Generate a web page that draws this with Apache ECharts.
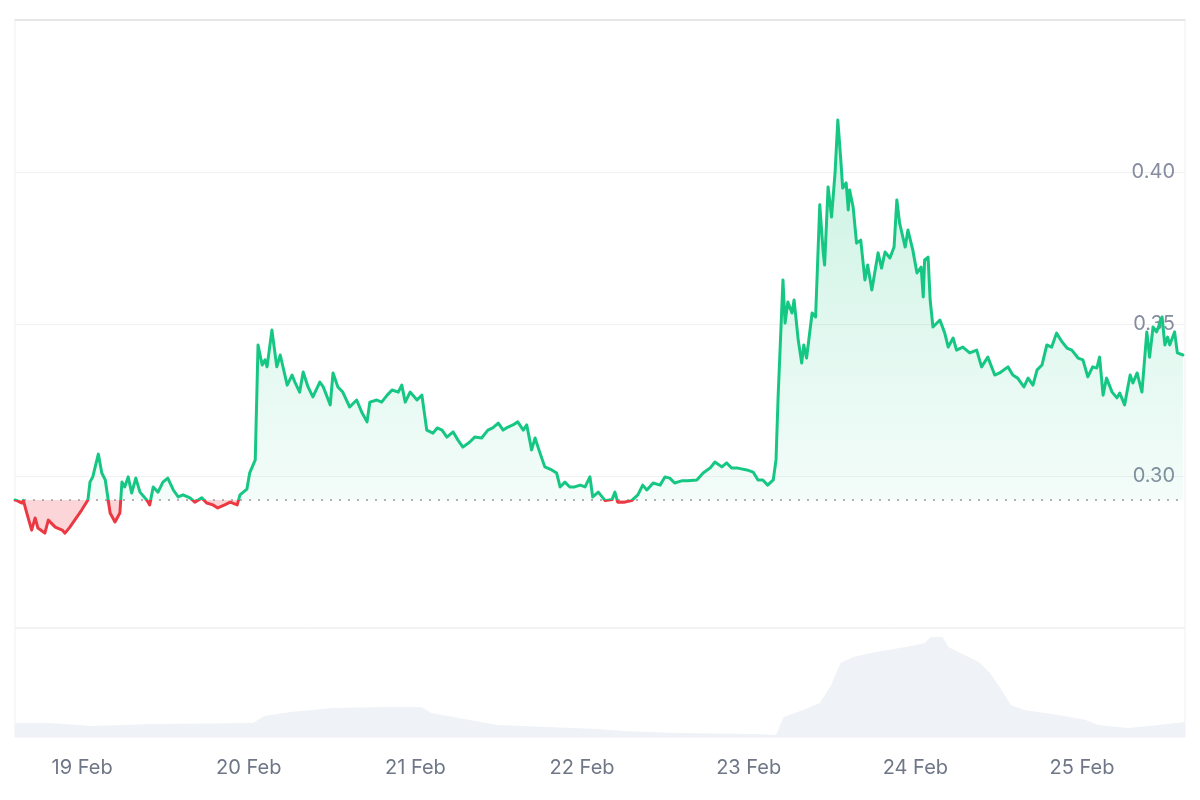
<!DOCTYPE html>
<html>
<head>
<meta charset="utf-8">
<script src="https://cdn.jsdelivr.net/npm/echarts@6/dist/echarts.min.js"></script>
<style>
html,body{margin:0;padding:0;background:#fff;}
#chart{width:1200px;height:800px;}
</style>
</head>
<body>
<div id="chart"></div>
<script>
// time origin of the 7-day window (UTC)
const START = Date.UTC(2025, 1, 18, 14, 20);
const HOUR = 3600000;
const AXIS_SPAN_HOURS = 168.5;
const baselinePrice = 0.2921;

const priceTicks = [0.25, 0.30, 0.35, 0.40, 0.45];
const shownPriceLabels = ['0.30', '0.35', '0.40'];
const dayLabels = ['19 Feb', '20 Feb', '21 Feb', '22 Feb', '23 Feb', '24 Feb', '25 Feb'];

// hours since START
const priceHours = [
0.0,0.3,1.0,1.2,1.7,2.4,2.9,3.3,4.3,4.8,5.8,6.8,7.2,7.9,8.9,9.6,10.5,10.8,11.2,12.0,
12.5,13.0,13.7,14.4,15.1,15.4,15.8,16.3,16.8,17.4,18.0,19.0,19.4,19.9,20.6,21.3,22.0,22.8,23.5,24.2,
25.2,25.9,26.9,27.6,28.5,29.2,30.2,31.0,32.0,32.4,33.4,33.8,34.6,35.0,35.6,36.0,36.3,37.0,37.7,38.2,
39.2,39.9,40.3,41.0,41.5,42.2,42.9,43.9,44.4,45.4,45.8,46.5,47.2,48.2,49.2,50.0,50.7,51.1,52.1,52.8,
53.6,54.3,55.2,55.7,56.2,56.9,57.9,58.6,59.3,60.2,60.8,61.5,62.2,63.1,63.8,64.5,65.5,66.2,67.2,68.1,
68.8,69.6,70.3,71.0,71.7,72.4,73.2,73.7,74.4,74.9,75.6,76.3,77.3,78.0,78.5,79.2,79.9,80.6,81.4,82.1,
82.8,83.2,84.0,85.0,86.0,86.4,86.8,87.8,88.8,89.7,90.4,91.0,91.9,92.9,93.6,94.3,95.0,96.0,96.9,98.2,
99.1,100.1,100.8,101.8,102.5,103.2,104.1,105.4,106.3,107.0,107.7,108.4,109.2,109.6,109.9,110.6,110.9,111.3,111.9,112.2,
112.8,113.3,113.6,114.0,114.8,115.3,115.9,116.4,116.6,117.1,117.6,118.1,118.5,118.9,119.2,119.7,120.0,120.2,120.7,121.2,
121.8,122.4,122.8,123.4,124.3,124.8,125.3,126.0,126.6,127.0,127.4,128.2,128.6,129.3,129.9,130.5,130.8,131.0,131.5,131.8,
132.2,133.2,133.9,134.4,135.1,135.6,136.5,137.5,138.5,139.2,140.1,141.1,141.8,143.0,143.7,144.4,145.3,145.9,146.6,147.2,
147.9,148.6,149.3,150.0,150.8,151.5,152.2,153.1,153.8,154.5,155.2,155.8,156.2,156.7,157.2,158.0,158.7,159.1,159.8,160.6,
161.0,161.6,162.3,163.0,163.4,163.9,164.4,165.2,165.6,166.0,166.3,167.0,167.4,168.2
];
const priceValues = [
0.2921,0.2919,0.2911,0.2920,0.2878,0.2822,0.2862,0.2829,0.2812,0.2855,0.2832,0.2822,0.2812,0.2832,0.2865,0.2888,0.2921,0.2980,0.2997,0.3072,
0.3010,0.2987,0.2878,0.2849,0.2878,0.2980,0.2964,0.2997,0.2944,0.2993,0.2947,0.2920,0.2905,0.2964,0.2947,0.2980,0.2993,0.2954,0.2931,0.2938,
0.2928,0.2914,0.2928,0.2911,0.2905,0.2895,0.2905,0.2914,0.2905,0.2938,0.2957,0.3010,0.3053,0.3431,0.3365,0.3382,0.3359,0.3480,0.3359,0.3398,
0.3299,0.3332,0.3309,0.3276,0.3342,0.3293,0.3260,0.3309,0.3293,0.3234,0.3339,0.3293,0.3276,0.3227,0.3250,0.3207,0.3178,0.3243,0.3250,0.3243,
0.3266,0.3283,0.3276,0.3299,0.3243,0.3276,0.3250,0.3266,0.3151,0.3141,0.3158,0.3151,0.3128,0.3145,0.3118,0.3095,0.3112,0.3128,0.3125,0.3151,
0.3158,0.3174,0.3151,0.3161,0.3168,0.3178,0.3151,0.3168,0.3086,0.3125,0.3076,0.3030,0.3020,0.3010,0.2964,0.2980,0.2964,0.2964,0.2970,0.2964,
0.2997,0.2931,0.2947,0.2919,0.2923,0.2947,0.2914,0.2914,0.2919,0.2938,0.2970,0.2954,0.2977,0.2970,0.2997,0.2993,0.2977,0.2984,0.2984,0.2987,
0.3010,0.3026,0.3046,0.3030,0.3043,0.3026,0.3026,0.3020,0.3013,0.2987,0.2987,0.2970,0.2987,0.3053,0.3260,0.3645,0.3503,0.3572,0.3536,0.3579,
0.3447,0.3372,0.3431,0.3388,0.3536,0.3523,0.3892,0.3734,0.3694,0.3951,0.3852,0.3997,0.4171,0.4049,0.3947,0.3964,0.3875,0.3941,0.3885,0.3766,
0.3776,0.3645,0.3694,0.3612,0.3734,0.3684,0.3737,0.3717,0.3753,0.3908,0.3832,0.3753,0.3809,0.3743,0.3668,0.3687,0.3589,0.3711,0.3720,0.3579,
0.3490,0.3513,0.3470,0.3424,0.3454,0.3414,0.3424,0.3405,0.3414,0.3359,0.3391,0.3332,0.3339,0.3359,0.3332,0.3322,0.3293,0.3322,0.3299,0.3349,
0.3365,0.3431,0.3424,0.3470,0.3441,0.3421,0.3414,0.3388,0.3382,0.3326,0.3359,0.3355,0.3391,0.3266,0.3322,0.3276,0.3257,0.3273,0.3234,0.3332,
0.3306,0.3339,0.3276,0.3474,0.3391,0.3490,0.3474,0.3523,0.3431,0.3457,0.3431,0.3474,0.3405,0.3398
];

const volumeHours = [
0.0,5.0,11.1,19.9,34.3,35.9,39.7,45.8,53.0,58.5,60.0,63.9,69.4,80.5,83.8,87.6,95.3,106.3,109.6,110.7,
113.5,115.9,117.4,118.9,120.7,124.0,128.3,131.0,131.9,133.6,134.4,138.8,140.4,142.1,143.4,145.4,150.3,154.2,156.0,160.3,
164.7,168.5
];
const volumeValues = [
14,14,11,13,14,21,25,29,30,30,24,19,12,9,8,6,4,3,2,20,
27,34,50,74,80,85,90,94,100,100,90,75,64,47,32,27,22,17,12,9,
12,15
];

const GREEN = '#16c784';
const RED = '#ea3943';
const t = h => START + h * HOUR;

const greenArea = priceHours.map((h, i) => [t(h), Math.max(priceValues[i], baselinePrice)]);
const redArea = priceHours.map((h, i) => [t(h), Math.min(priceValues[i], baselinePrice)]);
const priceLine = priceHours.map((h, i) => [t(h), priceValues[i]]);
const baselineLine = [[START, baselinePrice], [t(AXIS_SPAN_HOURS), baselinePrice]];
const volumeData = volumeHours.map((h, i) => [t(h), volumeValues[i]]);

const chart = echarts.init(document.getElementById('chart'), null, {renderer: 'canvas'});
const FONT = 'Inter, "Liberation Sans", sans-serif';

chart.setOption({
  animation: false,
  useUTC: true,
  backgroundColor: '#ffffff',
  grid: [
    {left: 15, right: 15, top: 20, bottom: 172, show: true, borderColor: '#f1f1f1', borderWidth: 1},
    {left: 15, right: 15, top: 628, bottom: 63, show: true, borderColor: '#f1f1f1', borderWidth: 1}
  ],
  xAxis: [
    {
      type: 'time', gridIndex: 0, position: 'top',
      min: START, max: t(AXIS_SPAN_HOURS),
      axisLine: {show: true, lineStyle: {color: '#e2e2e2', width: 1.5}},
      axisTick: {show: false}, axisLabel: {show: false}, splitLine: {show: false}
    },
    {
      type: 'time', gridIndex: 1,
      min: START, max: t(AXIS_SPAN_HOURS),
      minInterval: 24 * HOUR, maxInterval: 24 * HOUR,
      axisLine: {show: false}, axisTick: {show: false}, splitLine: {show: false},
      axisLabel: {
        color: '#6f7787', fontSize: 20, fontFamily: FONT, margin: 21,
        formatter: function (val) {
          const idx = Math.round((val - Date.UTC(2025, 1, 19)) / (24 * HOUR));
          return dayLabels[idx] !== undefined ? dayLabels[idx] : '';
        }
      }
    }
  ],
  yAxis: [
    {
      type: 'value', gridIndex: 0, position: 'right',
      min: priceTicks[0], max: priceTicks[priceTicks.length - 1], interval: 0.05,
      axisLine: {show: false}, axisTick: {show: false},
      splitLine: {show: true, lineStyle: {color: '#f1f1f1', width: 1}},
      axisLabel: {
        inside: true, margin: 10, color: '#858ca0', fontSize: 20, fontFamily: FONT,
        formatter: function (v) {
          const s = v.toFixed(2);
          return shownPriceLabels.indexOf(s) >= 0 ? s : '';
        }
      }
    },
    {
      type: 'value', gridIndex: 1, min: 0, max: 109, show: false
    }
  ],
  visualMap: {
    type: 'piecewise', show: false, seriesIndex: 2, dimension: 1,
    pieces: [
      {gte: 0, lt: baselinePrice, color: RED},
      {gte: baselinePrice, lte: 1, color: GREEN}
    ]
  },
  series: [
    {
      name: 'above', type: 'line', xAxisIndex: 0, yAxisIndex: 0, data: greenArea,
      symbol: 'none', silent: true, z: 1,
      lineStyle: {width: 0, opacity: 0},
      areaStyle: {
        origin: baselinePrice,
        color: new echarts.graphic.LinearGradient(0, 0, 0, 1, [
          {offset: 0, color: 'rgba(22,199,132,0.32)'},
          {offset: 1, color: 'rgba(22,199,132,0.07)'}
        ])
      }
    },
    {
      name: 'below', type: 'line', xAxisIndex: 0, yAxisIndex: 0, data: redArea,
      symbol: 'none', silent: true, z: 1,
      lineStyle: {width: 0, opacity: 0},
      areaStyle: {origin: baselinePrice, color: 'rgba(234,57,67,0.3)'}
    },
    {
      name: 'Price', type: 'line', xAxisIndex: 0, yAxisIndex: 0, data: priceLine,
      symbol: 'none', z: 3,
      lineStyle: {width: 3, join: 'round', cap: 'round'}
    },
    {
      name: 'Baseline', type: 'line', xAxisIndex: 0, yAxisIndex: 0, data: baselineLine,
      symbol: 'none', silent: true, z: 2,
      lineStyle: {color: '#9a9a9a', type: [2, 7], width: 1.6}
    },
    {
      name: 'Volume', type: 'line', xAxisIndex: 1, yAxisIndex: 1, data: volumeData,
      symbol: 'none', silent: true, z: 1,
      lineStyle: {width: 0, opacity: 0},
      areaStyle: {color: '#eff2f6', opacity: 1}
    }
  ]
});
</script>
</body>
</html>
